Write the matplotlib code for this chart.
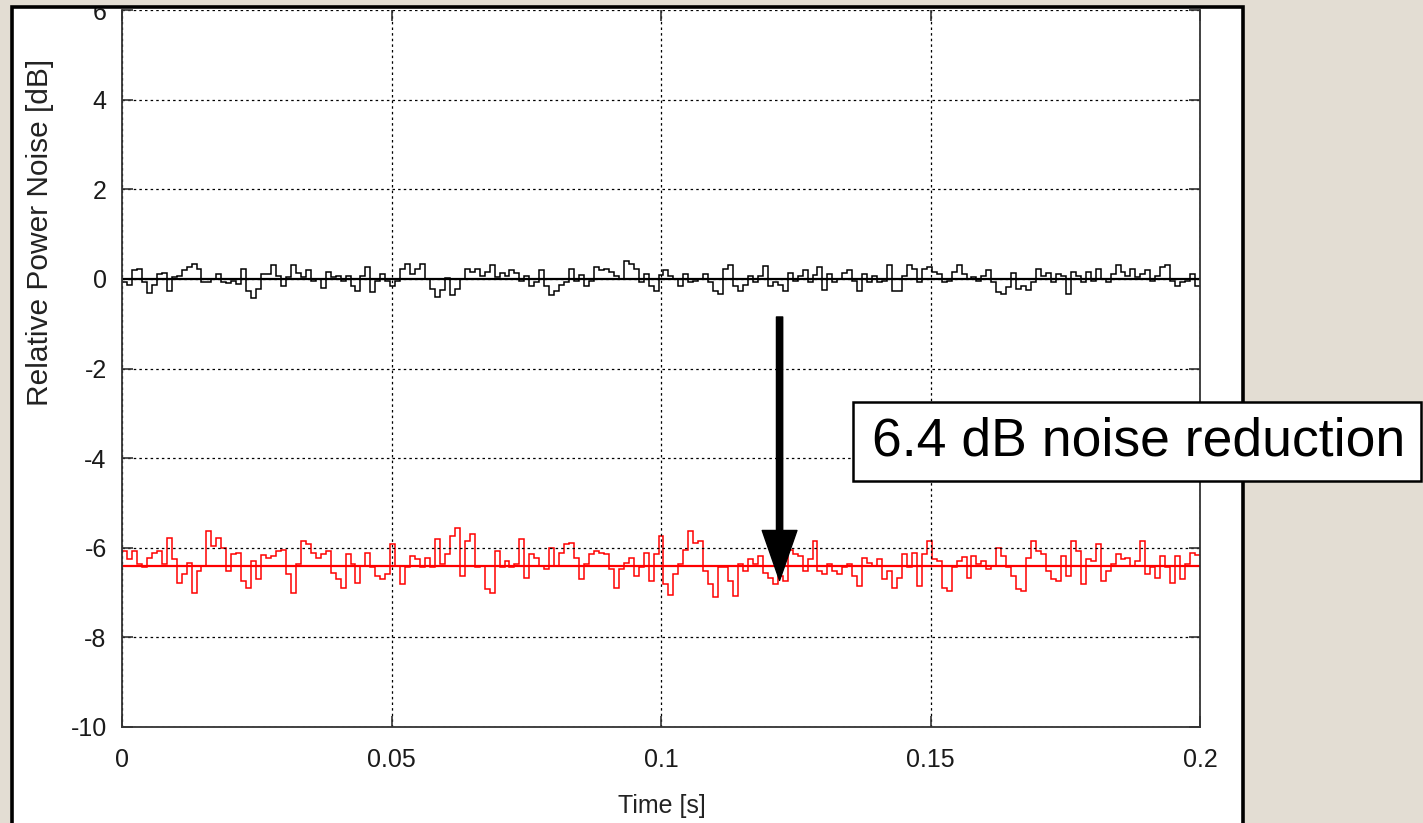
import numpy as np
import matplotlib
matplotlib.use("Agg")
import matplotlib.pyplot as plt
from matplotlib.patches import Rectangle

plt.rcParams["axes.unicode_minus"] = False

# Relative power noise [dB], left to right
noise_before = [
    -0.07, -0.13, 0.19, 0.21, -0.06, -0.31, -0.13, 0.11, 0.13, -0.26, 0.04, 0.07,
    0.19, 0.26, 0.33, 0.22, -0.07, -0.06, 0.0, 0.11, -0.07, -0.09, -0.04, -0.11,
    0.22, -0.26, -0.43, -0.22, 0.11, 0.11, 0.30, 0.07, -0.15, 0.04, 0.30, 0.13,
    0.04, 0.19, -0.04, -0.01, -0.21, 0.15, 0.04, 0.07, -0.05, 0.07, -0.16, -0.28,
    0.07, 0.26, -0.30, -0.04, 0.11, -0.04, -0.15, -0.04, 0.21, 0.33, 0.11, 0.21,
    0.33, 0.0, -0.22, -0.41, -0.24, 0.01, -0.36, -0.22, 0.0, 0.21, 0.16, 0.22,
    0.07,
    0.15, 0.31, 0.04, 0.13, 0.07, 0.19, 0.13, -0.04, 0.06, -0.16, -0.07, 0.19,
    -0.15, -0.36, -0.26, -0.13, -0.06, 0.22, -0.04, 0.09, -0.16, -0.04, 0.26, 0.19,
    0.21, 0.15, 0.07, -0.01, 0.39, 0.33, 0.21, -0.07, 0.11, -0.15, -0.26, 0.09,
    0.19, 0.07, -0.01, -0.15, 0.11, -0.07, -0.04, -0.01, 0.11, -0.07, -0.26, -0.33,
    0.21, 0.30, -0.15, -0.26, -0.13, 0.06, -0.07, 0.07, 0.28, -0.15, -0.07, -0.13,
    -0.26, 0.13, -0.04, 0.07, 0.19, -0.07, 0.09, 0.26, -0.24, 0.11, -0.07, 0.0,
    0.13, 0.19, -0.04, -0.28, 0.11, -0.07, 0.06, -0.06, -0.04, 0.30, -0.26, -0.26,
    0.07, 0.31, 0.21, -0.07, 0.22, 0.26, 0.15, 0.11, -0.07, -0.04, 0.15, 0.31,
    0.11, -0.01, 0.04, -0.04, 0.07, 0.19, -0.07, -0.30, -0.33, -0.19, 0.13, -0.22,
    -0.15, -0.24, -0.07, 0.22, 0.07, 0.13, -0.07, 0.11, 0.07, -0.33, 0.15, 0.07,
    -0.07, 0.15, -0.04, 0.21, 0.0, -0.07, 0.11, 0.30, 0.15, 0.07, 0.21, 0.04,
    0.11, 0.19, -0.04, 0.07, 0.26, 0.30, -0.04, -0.15, -0.07, -0.04, 0.11, -0.15,
]
noise_after = [
    -6.07, -6.26, -6.07, -6.37, -6.44, -6.22, -6.11, -6.07, -6.37, -5.79, -6.26, -6.78,
    -6.59, -6.33, -7.00, -6.52, -6.41, -5.63, -5.96, -5.79, -6.00, -6.52, -6.15, -6.11,
    -6.74, -6.89, -6.30, -6.70, -6.16, -6.22, -6.18, -6.07, -6.04, -6.59, -7.02, -6.37,
    -5.86, -5.92, -6.11, -6.22, -6.15, -6.07, -6.56, -6.70, -6.89, -6.15, -6.37, -6.78,
    -6.41, -6.11, -6.44, -6.63, -6.70, -6.59, -5.92, -6.41, -6.82, -6.44, -6.18, -6.26,
    -6.44, -6.22, -6.44, -5.81, -6.37, -6.15, -5.74, -5.55, -6.63, -5.86, -5.70, -6.44,
    -6.41,
    -6.93, -7.02, -6.07, -6.44, -6.30, -6.44, -6.37, -5.81, -6.67, -6.15, -6.22, -6.41,
    -6.48, -6.00, -6.41, -6.11, -5.92, -5.89, -6.22, -6.70, -6.37, -6.15, -6.07, -6.11,
    -6.15, -6.48, -6.89, -6.48, -6.33, -6.22, -6.63, -6.44, -6.11, -6.74, -6.15, -5.74,
    -6.82, -7.05, -6.59, -6.37, -6.04, -5.63, -5.89, -5.86, -6.52, -6.82, -7.11, -6.44,
    -6.44, -6.74, -7.08, -6.37, -6.52, -6.26, -6.37, -6.18, -6.56, -6.67, -6.82, -6.63,
    -6.74, -6.04, -6.15, -6.18, -6.52, -6.26, -5.85, -6.52, -6.59, -6.37, -6.52, -6.59,
    -6.44, -6.37, -6.63, -6.85, -6.22, -6.33, -6.41, -6.26, -6.70, -6.52, -6.89, -6.67,
    -6.15, -6.44, -6.11, -6.85, -6.15, -5.85, -6.26, -6.30, -6.89, -6.97, -6.44, -6.30,
    -6.21, -6.67, -6.18, -6.37, -6.30, -6.48, -6.41, -6.01, -6.18, -6.44, -6.63, -6.93,
    -6.97, -6.22, -5.86, -6.07, -6.15, -6.52, -6.70, -6.74, -6.18, -6.63, -5.86, -6.07,
    -6.82, -6.26, -6.30, -5.92, -6.74, -6.52, -6.37, -6.15, -6.26, -6.22, -6.41, -6.30,
    -5.85, -6.59, -6.44, -6.67, -6.18, -6.44, -6.78, -6.18, -6.70, -6.37, -6.11, -6.16,
]
mean_before = 0.0
mean_after = -6.4

t_end = 0.2
x_ticks = [0, 0.05, 0.1, 0.15, 0.2]
x_labels = ["0", "0.05", "0.1", "0.15", "0.2"]
y_ticks = [-10, -8, -6, -4, -2, 0, 2, 4, 6]
y_labels = ["-10", "-8", "-6", "-4", "-2", "0", "2", "4", "6"]

reduction_text = "6.4 dB noise reduction"
arrow_t, arrow_from, arrow_to = 0.122, -0.85, -6.73

W, H = 1423, 823
BG = "#e3ddd3"
narrow = ["Liberation Sans Narrow", "Liberation Sans", "DejaVu Sans"]

fig = plt.figure(figsize=(W / 100, H / 100), dpi=100, facecolor=BG)

# white slide frame behind the plot
fig.patches.append(Rectangle((12 / W, -0.05), (1243 - 12) / W, 1 - 7 / H + 0.05,
                             transform=fig.transFigure, facecolor="white",
                             edgecolor="none", zorder=-1))

ax = fig.add_axes([122 / W, 1 - 727 / H, (1200 - 122) / W, (727 - 10) / H])

edges = np.linspace(0, t_end, len(noise_before) + 1)
ax.stairs(noise_before, edges, baseline=None, color="black", lw=1.1)
edges = np.linspace(0, t_end, len(noise_after) + 1)
ax.stairs(noise_after, edges, baseline=None, color="red", lw=1.1)
ax.axhline(mean_before, color="black", lw=1.6)
ax.axhline(mean_after, color="red", lw=1.6)

ax.set_xlim(0, t_end)
ax.set_ylim(-10, 6)
ax.set_xticks(x_ticks)
ax.set_xticklabels(x_labels, family=narrow, fontsize=18, color="#1a1a1a")
ax.set_yticks(y_ticks)
ax.set_yticklabels(y_labels, family=narrow, fontsize=18, color="#1a1a1a")
ax.tick_params(direction="in", length=8, width=1.2, color="#333333",
               top=True, right=True)
ax.tick_params(axis="x", pad=15)
ax.tick_params(axis="y", pad=11)
ax.grid(True, color="black", lw=0.9, ls=(0, (2, 2.5)))
ax.spines["top"].set_visible(False)
for s in ["left", "bottom", "right"]:
    ax.spines[s].set_color("#333333")
    ax.spines[s].set_linewidth(1.3)

fig.text(40 / W, 1 - 232 / H, "Relative Power Noise [dB]", rotation=90,
         ha="center", va="center", fontsize=21.5, family="Liberation Sans",
         color="#222222")
fig.text(662 / W, 1 - 806 / H, "Time [s]", ha="center", va="center",
         fontsize=18, family=narrow, color="#222222")

ax.annotate("", xy=(arrow_t, arrow_to), xytext=(arrow_t, arrow_from),
            arrowprops=dict(facecolor="black", edgecolor="black", width=4.5,
                            headwidth=25, headlength=36, shrink=0))

# slide background above the frame, then the frame border on top
fig.patches.append(Rectangle((0, 1 - 7 / H), 1, 7 / H, transform=fig.transFigure,
                             facecolor=BG, edgecolor="none", zorder=10))
fig.patches.append(Rectangle((12 / W, -0.05), (1243 - 12) / W, 1 - 7 / H + 0.05,
                             transform=fig.transFigure, fill=False,
                             edgecolor="black", lw=2.6, zorder=11))

# callout box
fig.patches.append(Rectangle((853 / W, 1 - 481 / H), (1421 - 853) / W, 79 / H,
                             transform=fig.transFigure, facecolor="white",
                             edgecolor="black", lw=1.8, zorder=12))
fig.text(1139 / W, 1 - 442 / H, reduction_text, ha="center", va="center",
         fontsize=38.5, family="Liberation Sans", color="black", zorder=13)

fig.savefig("out.png", dpi=100, facecolor=BG)
